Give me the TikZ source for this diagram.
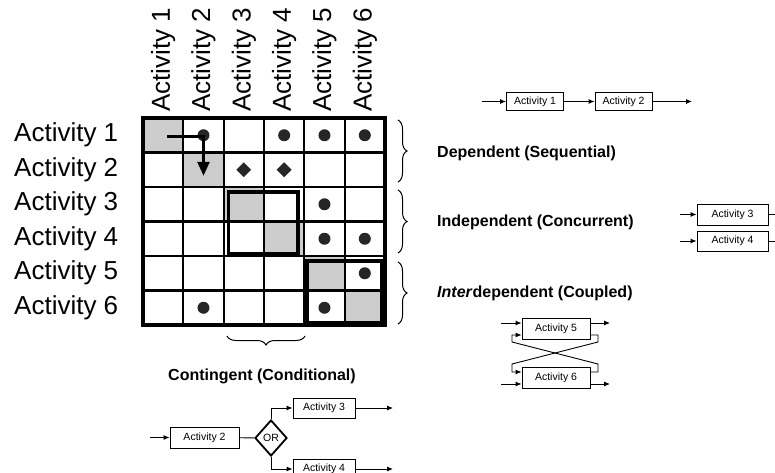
\documentclass[tikz,border=0pt]{standalone}
\usepackage{fontspec}
\setmainfont{Liberation Sans}
\usetikzlibrary{arrows.meta,decorations.pathreplacing,shapes.geometric,calc}
\tikzset{
  biglabel/.style={font=\fontsize{26}{30}\selectfont, inner sep=0pt},
  catlabel/.style={font=\bfseries\fontsize{16}{19}\selectfont, inner sep=0pt, anchor=west},
  gridline/.style={line width=2.2pt},
  diagcell/.style={fill=black!20},
  dot/.style={circle, fill=black!85, inner sep=0pt, minimum size=12pt},
  dmd/.style={diamond, fill=black!85, inner sep=0pt, minimum width=15pt, minimum height=15pt},
  thickbox/.style={line width=3.6pt},
  brc/.style={decorate, decoration={brace, amplitude=9pt}, line width=1pt},
  sbox/.style={draw, line width=0.9pt, inner sep=0pt, font=\fontsize{10.5}{12}\selectfont, minimum height=20pt},
  sarr/.style={line width=0.9pt, -{Latex[length=6pt,width=5pt]}},
  sline/.style={line width=0.9pt},
}
\begin{document}
\begin{tikzpicture}[x=1pt,y=-1pt]
\useasboundingbox (0,0) rectangle (775,473);
\def\cw{40.33}
\def\ch{34.5}
% cell centres
\foreach \r in {1,...,6}{
  \foreach \c in {1,...,6}{
    \coordinate (cell-\r-\c) at ({143+\cw*(\c-0.5)},{118+\ch*(\r-0.5)});
  }
}
% diagonal shading
\foreach \i in {1,...,6}{
  \fill[diagcell] ({143+\cw*(\i-1)},{118+\ch*(\i-1)}) rectangle +(\cw,\ch);
}
% grid
\foreach \i in {1,...,5}{
  \draw[gridline] ({143+\cw*\i},118) -- ({143+\cw*\i},325);
  \draw[gridline] (143,{118+\ch*\i}) -- (385,{118+\ch*\i});
}
\draw[line width=4pt] (143,118) rectangle (385,325);
% block boxes
\draw[thickbox] (228.5,192) rectangle (298,253.5);
\draw[thickbox] (307,261) rectangle (382,323);
% marks
\foreach \r/\c in {1/2,1/4,1/5,1/6,3/5,4/5,4/6,5/6,6/2,6/5}{
  \node[dot] (dot-\r-\c) at (cell-\r-\c) {};
}
\node[dmd] (dmd-2-3) at (cell-2-3) {};
\node[dmd] (dmd-2-4) at (cell-2-4) {};
% sequence arrow
\coordinate (arrS) at ($(cell-1-1)+(4,1)$);
\coordinate (arrE) at ($(cell-2-2)+(0,6)$);
\draw[line width=2.6pt, -{Triangle[length=14pt,width=12pt]}] (arrS) -| (arrE);
% row and column labels
\foreach \i in {1,...,6}{
  \node[biglabel, anchor=west] (row-\i) at (14,{118+\ch*(\i-0.5)}) {Activity \i};
  \node[biglabel, anchor=west, rotate=90] (col-\i) at ({143+\cw*(\i-0.5)},112) {Activity \i};
}
% braces
\draw[brc] (398,120) -- (398,182);
\draw[brc] (398,190) -- (398,253);
\draw[brc] (398,262) -- (398,324);
\draw[brc] (305,336) -- (227,336);
% category labels
\node[catlabel] (dep) at (437,153) {Dependent (Sequential)};
\node[catlabel] (ind) at (437,222) {Independent (Concurrent)};
\node[catlabel] (inter) at (437,293) {\textit{Inter}dependent (Coupled)};
\node[catlabel, anchor=center] (cont) at (262,376) {Contingent (Conditional)};
% sequential diagram
\node[sbox, minimum width=57pt, minimum height=18pt] (s1) at (535,101.5) {Activity 1};
\node[sbox, minimum width=57pt, minimum height=18pt] (s2) at (623.5,101.5) {Activity 2};
\coordinate (sIn) at (482,101.5);
\coordinate (sOut) at (692,101.5);
\draw[sarr] (sIn) -- (s1);
\draw[sarr] (s1) -- (s2);
\draw[sarr] (s2) -- (sOut);
% concurrent diagram
\node[sbox, minimum width=71pt, minimum height=21pt] (i3) at (732.5,214.5) {Activity 3};
\node[sbox, minimum width=71pt, minimum height=20pt] (i4) at (732.5,241) {Activity 4};
\coordinate (i3In) at (680,214.5);
\coordinate (i4In) at (680,241);
\coordinate (i3Out) at (776,214.5);
\coordinate (i4Out) at (776,241);
\draw[sarr] (i3In) -- (i3);
\draw[sarr] (i4In) -- (i4);
\draw[sline] (i3) -- (i3Out);
\draw[sline] (i4) -- (i4Out);
% coupled diagram
\node[sbox, minimum width=68pt, minimum height=21pt] (c5) at (556,328.5) {Activity 5};
\node[sbox, minimum width=68pt, minimum height=21pt] (c6) at (556,377.5) {Activity 6};
\coordinate (c5In) at (501,323);
\coordinate (c5Out) at (610,323);
\coordinate (c6In) at (501,384);
\coordinate (c6Out) at (610,384);
\draw[sarr] (c5In) -- (c5.west |- c5In);
\draw[sarr] (c5.east |- c5Out) -- (c5Out);
\draw[sarr] (c6In) -- (c6.west |- c6In);
\draw[sarr] (c6.east |- c6Out) -- (c6Out);
\draw[sarr] (c5.east |- 0,335) -- (598,335) -- (598,342) -- (512,364) -- (512,372) -- (c6.west |- 0,372);
\draw[sarr] (c6.east |- 0,372) -- (598,372) -- (598,364) -- (512,342) -- (512,335) -- (c5.west |- 0,335);
% contingent diagram
\node[sbox, minimum width=69pt, minimum height=21pt] (k2) at (204.5,437.5) {Activity 2};
\node[diamond, draw, line width=1.8pt, inner sep=0pt, minimum width=32pt, minimum height=36pt, font=\fontsize{10.5}{12}\selectfont] (or) at (271,438) {OR};
\node[sbox, minimum width=62pt, minimum height=20pt] (k3) at (324,408) {Activity 3};
\node[sbox, minimum width=62pt, minimum height=20pt] (k4) at (324,469) {Activity 4};
\coordinate (kIn) at (150,437.5);
\coordinate (k3Out) at (393,408);
\coordinate (k4Out) at (393,469);
\draw[sarr] (kIn) -- (k2);
\draw[sline] (k2) -- (or);
\draw[sarr] (or.north) |- (k3.west);
\draw[sarr] (or.south) |- (k4.west);
\draw[sarr] (k3) -- (k3Out);
\draw[sarr] (k4) -- (k4Out);
\end{tikzpicture}
\end{document}
